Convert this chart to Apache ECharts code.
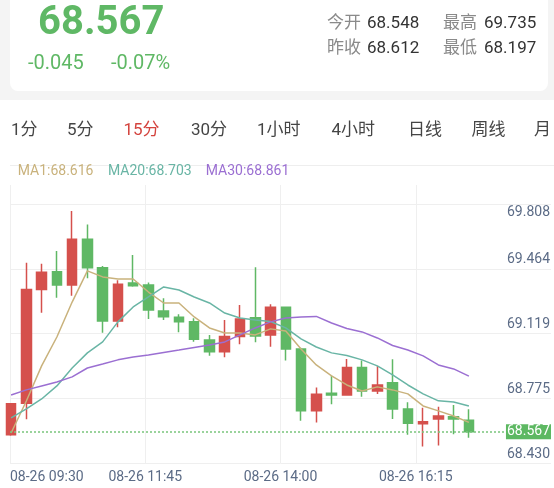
<!DOCTYPE html>
<html><head><meta charset="utf-8">
<script src="https://cdn.jsdelivr.net/npm/echarts@6/dist/echarts.min.js"></script>
<style>html,body{margin:0;padding:0;background:#f4f4f4}#c{width:554px;height:488px}</style>
</head><body><div id="c"></div><script>
// ---------- data ----------
const times = ['09:30','09:45','10:00','10:15','10:30','10:45','11:00','11:15','11:30','11:45',
  '12:00','12:15','12:30','12:45','13:00','13:15','13:30','13:45','14:00','14:15','14:30',
  '14:45','15:00','15:15','15:30','15:45','16:00','16:15','16:30','16:45','17:00'];
const opens  = [68.550,68.717,69.320,69.414,69.343,69.586,69.435,69.153,69.354,69.343,69.206,69.172,69.149,69.052,68.990,69.070,69.170,69.079,69.225,69.004,68.677,68.770,68.761,68.906,68.782,68.826,68.687,68.609,68.634,68.646,68.627];
const closes = [68.714,69.320,69.411,69.343,69.586,69.435,69.153,69.347,69.339,69.211,69.175,69.149,69.056,68.990,69.070,69.163,69.073,69.225,69.004,68.677,68.765,68.761,68.906,68.782,68.814,68.687,68.611,68.620,68.650,68.634,68.567];
const lows   = [68.545,68.633,69.197,69.276,69.286,69.379,69.091,69.119,69.334,69.163,69.158,69.093,69.043,68.969,68.961,69.029,69.040,69.017,68.943,68.624,68.615,68.712,68.758,68.752,68.766,68.634,68.550,68.488,68.493,68.553,68.535];
const highs  = [68.714,69.461,69.456,69.523,69.735,69.664,69.444,69.368,69.502,69.357,69.273,69.188,69.167,69.079,69.158,69.237,69.437,69.241,69.228,69.011,68.800,68.863,68.952,68.943,68.915,68.950,68.723,68.694,68.699,68.708,68.686];
const ma1  = [68.560,68.729,68.915,69.068,69.253,69.418,69.386,69.375,69.375,69.306,69.248,69.248,69.174,69.116,69.089,69.089,69.079,69.111,69.100,69.005,68.920,68.862,68.814,68.782,68.804,68.788,68.767,68.703,68.677,68.650,68.616];
const ma20 = [68.640,68.687,68.740,68.809,68.904,68.984,69.042,69.148,69.227,69.280,69.333,69.317,69.280,69.248,69.195,69.169,69.158,69.150,69.116,69.058,69.015,68.984,68.970,68.947,68.915,68.867,68.814,68.767,68.730,68.724,68.703];
const ma30 = [68.761,68.788,68.809,68.830,68.857,68.904,68.925,68.947,68.962,68.973,68.986,68.999,69.013,69.026,69.042,69.079,69.116,69.148,69.169,69.174,69.177,69.142,69.113,69.095,69.063,69.023,68.999,68.968,68.920,68.899,68.861];
const yTickLabels = ['68.430','68.775','69.119','69.464','69.808'];
const dateLabels = ['08-26 09:30','08-26 11:45','08-26 14:00','08-26 16:15',''];
const periods = ['1分','5分','15分','30分','1小时','4小时','日线','周线','月'];
const activePeriod = '15分';
const lastPrice = '68.567';
const changeTexts = ['-0.045','-0.07%'];
const statLabels = ['今开','最高','昨收','最低'];
const statValues = ['68.548','69.735','68.612','68.197'];
const maNames = ['MA1','MA20','MA30'];

// ---------- style / layout ----------
const FONT = 'Roboto, "Noto Sans CJK SC", sans-serif';
const RED = '#d5504c', GREEN = '#5fb865';
const MA_COLORS = ['#c9b27c','#69b5a5','#9b6fd2'];
const AXIS_TXT = '#5b6b86';
const yMin = 68.401, yStep = 0.34275, yMax = 69.8726;

function txt(x, y, text, size, color, weight) {
  return {type:'text', x:x, y:y, z:10, silent:true,
    style:{text:text, fill:color, font:(weight||'normal')+' '+size+'px '+FONT, align:'left', verticalAlign:'middle'}};
}
const tabX = [11,67,123.5,191,257,331.5,408,471.5,534];
const statPos = [[327,367,23.5],[443,484,23.5],[327,367,48.5],[443,484,48.5]];
const legendX = [17.7,108,205.7];
const mas = [ma1, ma20, ma30];

const elements = [
  {type:'rect', z:-10, silent:true, shape:{x:10,y:-12,width:538,height:103,r:8}, style:{fill:'#fff'}},
  {type:'rect', z:-10, silent:true, shape:{x:0,y:100,width:554,height:388}, style:{fill:'#fff'}},
  {type:'line', z:-5, silent:true, shape:{x1:10,y1:165.5,x2:554,y2:165.5}, style:{stroke:'#eeeeee',lineWidth:1}},
  txt(38, 24, lastPrice, 40, GREEN, 'bold'),
  txt(28, 63.5, changeTexts[0], 20, GREEN),
  txt(111, 63.5, changeTexts[1], 20, GREEN)
];
statLabels.forEach((l,i)=>{
  elements.push(txt(statPos[i][0], statPos[i][2], l, 17, '#8a8a8a'));
  elements.push(txt(statPos[i][1], statPos[i][2], statValues[i], 17, '#333333'));
});
periods.forEach((p,i)=>{
  elements.push(txt(tabX[i], 131, p, 17, p===activePeriod ? '#d4443e' : '#454545'));
});
maNames.forEach((n,i)=>{
  const arr = mas[i];
  elements.push(txt(legendX[i], 171.5, n + ':' + arr[arr.length-1].toFixed(3), 14, MA_COLORS[i]));
});

const lastClose = closes[closes.length-1];
const chart = echarts.init(document.getElementById('c'), null, {renderer:'canvas'});
const yCommon = {type:'value', position:'right', min:yMin, max:yMax, interval:yStep,
  axisLine:{show:false}, axisTick:{show:false}};
chart.setOption({
  backgroundColor:'#f4f4f4',
  animation:false,
  textStyle:{fontFamily:FONT},
  graphic:{elements:elements},
  grid:{left:10, right:2, top:185, bottom:25},
  xAxis:[
    {type:'value', min:-0.072, max:35.38, show:false},
    {type:'category', data:dateLabels, boundaryGap:false, position:'bottom',
      axisLine:{show:false}, axisTick:{show:false},
      axisLabel:{color:AXIS_TXT, fontSize:14, margin:8, interval:0, alignMinLabel:'left', fontFamily:FONT},
      splitLine:{show:true, showMaxLine:false, lineStyle:{color:'#efefef', width:1}}}
  ],
  yAxis:[
    Object.assign({}, yCommon, {
      splitLine:{show:true, showMaxLine:false, lineStyle:{color:'#efefef', width:1}},
      axisLabel:{inside:true, margin:1, color:AXIS_TXT, fontSize:14, fontFamily:FONT, verticalAlign:'bottom',
        padding:[0,0,2,0], showMaxLabel:false, formatter:(v,i)=> i<4 ? yTickLabels[i] : ''}}),
    Object.assign({}, yCommon, {
      splitLine:{show:false},
      axisLabel:{inside:true, margin:1, color:AXIS_TXT, fontSize:14, fontFamily:FONT, verticalAlign:'top',
        padding:[1,0,0,0], showMaxLabel:false, formatter:(v,i)=> i===4 ? yTickLabels[4] : ''}})
  ],
  series:[
    {type:'candlestick', xAxisIndex:0, yAxisIndex:0, barWidth:10,
      data: times.map((t,i)=>[i, opens[i], closes[i], lows[i], highs[i]]),
      itemStyle:{color:RED, color0:GREEN, borderColor:RED, borderColor0:GREEN, borderWidth:1.5},
      markLine:{symbol:'none', silent:true, animation:false, precision:3,
        data:[{yAxis: lastClose}],
        lineStyle:{color:'#79c57c', type:[2,2], width:1.5},
        label:{position:'insideEnd', distance:0, formatter:()=>lastClose.toFixed(3),
          color:'#fff', backgroundColor:'#5db862', padding:[1,1,0,1], fontSize:14, fontFamily:FONT}}},
    ...mas.map((arr,k)=>({type:'line', name:maNames[k], xAxisIndex:0, yAxisIndex:0, z:3,
      data: arr.map((v,i)=>[i,v]), showSymbol:false, symbol:'none',
      lineStyle:{color:MA_COLORS[k], width:1.5}}))
  ]
});
</script></body></html>
